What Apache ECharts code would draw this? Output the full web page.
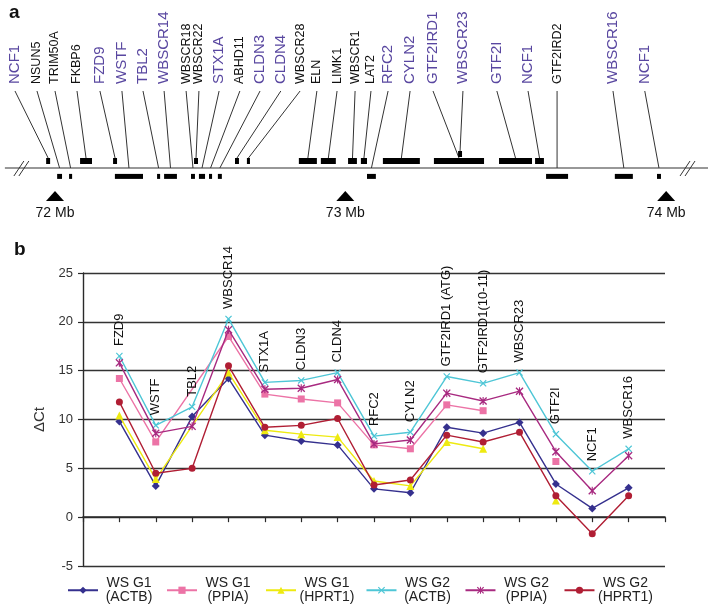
<!DOCTYPE html>
<html><head><meta charset="utf-8">
<script src="https://cdn.jsdelivr.net/npm/echarts@6/dist/echarts.min.js"></script>
<style>html,body{margin:0;padding:0;background:#fff}#c{width:712px;height:606px}</style>
</head><body><div id="c"></div>
<script>
// ---------- Panel a: gene map (positions in Mb) ----------
const geneNames = ['NCF1','NSUN5','TRIM50A','FKBP6','FZD9','WSTF','TBL2','WBSCR14','WBSCR18','WBSCR22','STX1A','ABHD11','CLDN3','CLDN4','WBSCR28','ELN','LIMK1','WBSCR1','LAT2','RFC2','CYLN2','GTF2IRD1','WBSCR23','GTF2I','NCF1','GTF2IRD2','WBSCR16','NCF1'];
const geneLabelPos = [71.869,71.941,72.000,72.072,72.147,72.219,72.288,72.357,72.429,72.471,72.537,72.605,72.671,72.739,72.802,72.857,72.923,72.982,73.034,73.090,73.162,73.237,73.335,73.446,73.548,73.643,73.826,73.930];
const geneStart = [71.971,72.007,72.046,72.082,72.190,72.196,72.334,72.357,72.445,72.455,72.471,72.504,72.533,72.589,72.628,72.798,72.870,72.959,73.001,73.021,73.073,73.240,73.319,73.453,73.571,73.607,73.832,73.970];
const geneEnd = [71.984,72.023,72.056,72.121,72.203,72.288,72.344,72.399,72.458,72.468,72.491,72.514,72.546,72.602,72.638,72.857,72.919,72.988,73.021,73.050,73.194,73.404,73.332,73.561,73.600,73.679,73.891,73.983];
const geneStrand = [1,-1,-1,1,1,-1,-1,-1,-1,1,-1,-1,-1,1,1,1,1,1,1,-1,1,1,2,1,1,-1,-1,-1];
const geneTested = [1,0,0,0,1,1,1,1,0,0,1,0,1,1,0,0,0,0,0,1,1,1,1,1,1,0,1,1];
const chromExtent = [71.836, 74.137];
const markerLabels = ['72 Mb','73 Mb','74 Mb'];
const markerPos = [72.0, 72.95, 74.0];

// ---------- Panel b: delta Ct ----------
const categories = ['FZD9','WSTF','TBL2','WBSCR14','STX1A','CLDN3','CLDN4','RFC2','CYLN2','GTF2IRD1 (ATG)','GTF2IRD1(10-11)','WBSCR23','GTF2I','NCF1','WBSCR16'];
const seriesNames = ['WS G1\n(ACTB)','WS G1\n(PPIA)','WS G1\n(HPRT1)','WS G2\n(ACTB)','WS G2\n(PPIA)','WS G2\n(HPRT1)'];
const g1ACTB  = [9.8, 3.2, 10.3, 14.2, 8.4, 7.8, 7.4, 2.9, 2.5, 9.2, 8.6, 9.7, 3.4, 0.9, 3.0];
const g1PPIA  = [14.2, 7.7, null, 18.5, 12.6, 12.1, 11.7, 7.4, 7.0, 11.5, 10.9, null, 5.7, null, null];
const g1HPRT1 = [10.4, 3.9, null, 14.8, 8.9, 8.5, 8.2, 3.7, 3.2, 7.7, 7.0, null, 1.7, null, null];
const g2ACTB  = [16.5, 9.4, 11.3, 20.3, 13.8, 14.0, 14.8, 8.3, 8.7, 14.4, 13.7, 14.8, 8.5, 4.7, 7.0];
const g2PPIA  = [15.8, 8.6, 9.3, 19.2, 13.1, 13.2, 14.1, 7.5, 7.9, 12.7, 11.9, 12.9, 6.7, 2.7, 6.3];
const g2HPRT1 = [11.8, 4.5, 5.0, 15.5, 9.2, 9.4, 10.1, 3.3, 3.8, 8.4, 7.7, 8.7, 2.2, -1.7, 2.2];
const bridgedGaps = ['TBL2'];   // missing values that the original lines step over
const yMin = -5, yMax = 25, yStep = 5;

// ---------- styles ----------
const FONT = '"Liberation Sans", Arial, sans-serif';
const PURPLE = '#5947A0';
const colors = ['#35308E','#EC73A6','#EEEA10','#4EC6D6','#A82A80','#B01E34'];
const XPATH = 'path://M0,1.2L1.2,0L5,3.8L8.8,0L10,1.2L6.2,5L10,8.8L8.8,10L5,6.2L1.2,10L0,8.8L3.8,5Z';
const STARPATH = 'path://M0,1.2L1.2,0L5,3.8L8.8,0L10,1.2L6.2,5L10,8.8L8.8,10L5,6.2L1.2,10L0,8.8L3.8,5Z M4.3,0H5.7V10H4.3Z';
const symbols = ['diamond','rect','triangle',XPATH,STARPATH,'circle'];
const symbolSizes = [8,7,8,7,8,7];
const seriesValues = [g1ACTB,g1PPIA,g1HPRT1,g2ACTB,g2PPIA,g2HPRT1];

function lineData(vals){
  const out = [];
  vals.forEach((v,i)=>{
    if (v == null) { if (!bridgedGaps.includes(categories[i])) out.push([i+1,'-']); }
    else out.push([i+1, v]);
  });
  return out;
}
const topVals = categories.map((c,i)=>Math.max(...seriesValues.map(s=>s[i]).filter(v=>v!=null)));
const trackY = {'1': 0.5, '-1': -0.6, '2': 1.0};

const chart = echarts.init(document.getElementById('c'), null, {renderer:'canvas'});
const lineSeries = seriesNames.map((n,k)=>({
  type:'line', name:n, xAxisIndex:1, yAxisIndex:1,
  data: lineData(seriesValues[k]),
  connectNulls:false, symbol:symbols[k], symbolSize:symbolSizes[k], showSymbol:true,
  lineStyle:{color:colors[k], width:1.4},
  itemStyle:{color:colors[k], borderWidth:0},
  emphasis:{disabled:true}, animation:false, z:3+k
}));

const option = {
  animation:false,
  textStyle:{fontFamily:FONT},
  grid:[
    {left:0, right:0, top:140, height:56},
    {left:83, right:47, top:273, bottom:40}
  ],
  xAxis:[
    {gridIndex:0, type:'value', min:71.82, max:74.15, show:false},
    {gridIndex:1, type:'value', min:0, max:16, interval:1,
     axisLine:{show:true, onZero:true, lineStyle:{color:'#2a2a2a', width:1.6}},
     axisTick:{show:true, inside:false, length:5, lineStyle:{color:'#2a2a2a', width:1.2}},
     axisLabel:{show:false}, splitLine:{show:false}}
  ],
  yAxis:[
    {gridIndex:0, type:'value', min:-2, max:2, show:false},
    {gridIndex:1, type:'value', min:yMin, max:yMax, interval:yStep,
     name:'ΔCt', nameLocation:'middle', nameGap:35,
     nameTextStyle:{fontSize:15, color:'#333', fontFamily:FONT},
     axisLine:{show:true, lineStyle:{color:'#2a2a2a', width:1.4}},
     axisTick:{show:true, length:5, lineStyle:{color:'#2a2a2a', width:1.2}},
     axisLabel:{fontSize:13, color:'#333', margin:10, fontFamily:FONT},
     splitLine:{show:true, lineStyle:{color:'#333', width:1.4}}}
  ],
  legend:{
    data:seriesNames, left:62, top:571, orient:'horizontal',
    itemWidth:30, itemHeight:9, itemGap:11,
    formatter: n => n.split('\n').map(s=>'{c|'+s+'}').join('\n'),
    textStyle:{fontFamily:FONT, color:'#222', rich:{c:{width:52, align:'center', fontSize:14, lineHeight:14.5, fontFamily:FONT, color:'#222'}}},
    selectedMode:false
  },
  graphic:[
    {type:'text', left:9, top:3, style:{text:'a', font:'bold 19px '+FONT, fill:'#111'}},
    {type:'text', left:14, top:240, style:{text:'b', font:'bold 19px '+FONT, fill:'#111'}}
  ],
  series:[
    // chromosome line with break marks
    {type:'custom', xAxisIndex:0, yAxisIndex:0, data:[chromExtent], animation:false, silent:true,
     renderItem:(params, api)=>{
       const a = api.coord([api.value(0),0]), b = api.coord([api.value(1),0]);
       const y = a[1];
       const brk = (x)=>[
         {type:'line', shape:{x1:x-6, y1:y+8, x2:x+4, y2:y-7}, style:{stroke:'#333', lineWidth:1}},
         {type:'line', shape:{x1:x-1, y1:y+8, x2:x+9, y2:y-7}, style:{stroke:'#333', lineWidth:1}}
       ];
       return {type:'group', children:[
         {type:'line', shape:{x1:a[0], y1:y, x2:b[0], y2:y}, style:{stroke:'#333', lineWidth:1.2}},
         ...brk(a[0]+15), ...brk(b[0]-22)
       ]};
     }},
    // genes
    {type:'custom', xAxisIndex:0, yAxisIndex:0, animation:false, silent:true,
     data: geneNames.map((n,i)=>[geneStart[i], geneEnd[i], geneStrand[i], geneLabelPos[i], geneTested[i]]),
     renderItem:(params, api)=>{
       const i = params.dataIndex;
       const s = api.value(0), e = api.value(1), strand = api.value(2), lp = api.value(3), tested = api.value(4);
       const p0 = api.coord([s,0]), p1 = api.coord([e,0]);
       const lineY = p0[1];
       const yc = api.coord([s, trackY[String(strand)]])[1];
       const h = strand > 0 ? 6 : 5;
       const x0 = p0[0], x1 = Math.max(p1[0], x0+3);
       const cx = (x0+x1)/2;
       const lx = api.coord([lp,0])[0];
       const labelBottom = lineY - 84;
       const leaderEnd = strand > 0 ? yc - h/2 : lineY;
       return {type:'group', children:[
         {type:'rect', shape:{x:x0, y:yc-h/2, width:x1-x0, height:h}, style:{fill:'#000'}},
         {type:'line', shape:{x1:lx, y1:labelBottom+7, x2:cx, y2:leaderEnd}, style:{stroke:'#333', lineWidth:1}},
         {type:'text', x:lx, y:labelBottom, rotation:Math.PI/2,
          style:{text:geneNames[i], fill: tested ? PURPLE : '#111',
                 font:(tested ? '15px ' : '12.5px ') + FONT, align:'left', verticalAlign:'middle'}}
       ]};
     }},
    // Mb markers
    {type:'custom', xAxisIndex:0, yAxisIndex:0, animation:false, silent:true,
     data: markerPos.map(p=>[p]),
     renderItem:(params, api)=>{
       const p = api.coord([api.value(0),0]);
       const x = p[0], y = p[1];
       return {type:'group', children:[
         {type:'polygon', shape:{points:[[x,y+23],[x-9,y+33],[x+9,y+33]]}, style:{fill:'#000'}},
         {type:'text', x:x, y:y+45, style:{text:markerLabels[params.dataIndex], font:'14px '+FONT, fill:'#111', align:'center', verticalAlign:'middle'}}
       ]};
     }},
    ...lineSeries,
    // category labels above each group of points
    {type:'custom', xAxisIndex:1, yAxisIndex:1, animation:false, silent:true, z:20,
     data: categories.map((c,i)=>[i+1, topVals[i]]),
     renderItem:(params, api)=>{
       const p = api.coord([api.value(0), api.value(1)]);
       return {type:'text', x:p[0], y:p[1]-10, rotation:Math.PI/2,
         style:{text:categories[params.dataIndex], font:'13px '+FONT, fill:'#111', align:'left', verticalAlign:'middle'}};
     }}
  ]
};
chart.setOption(option);
</script>
</body></html>
